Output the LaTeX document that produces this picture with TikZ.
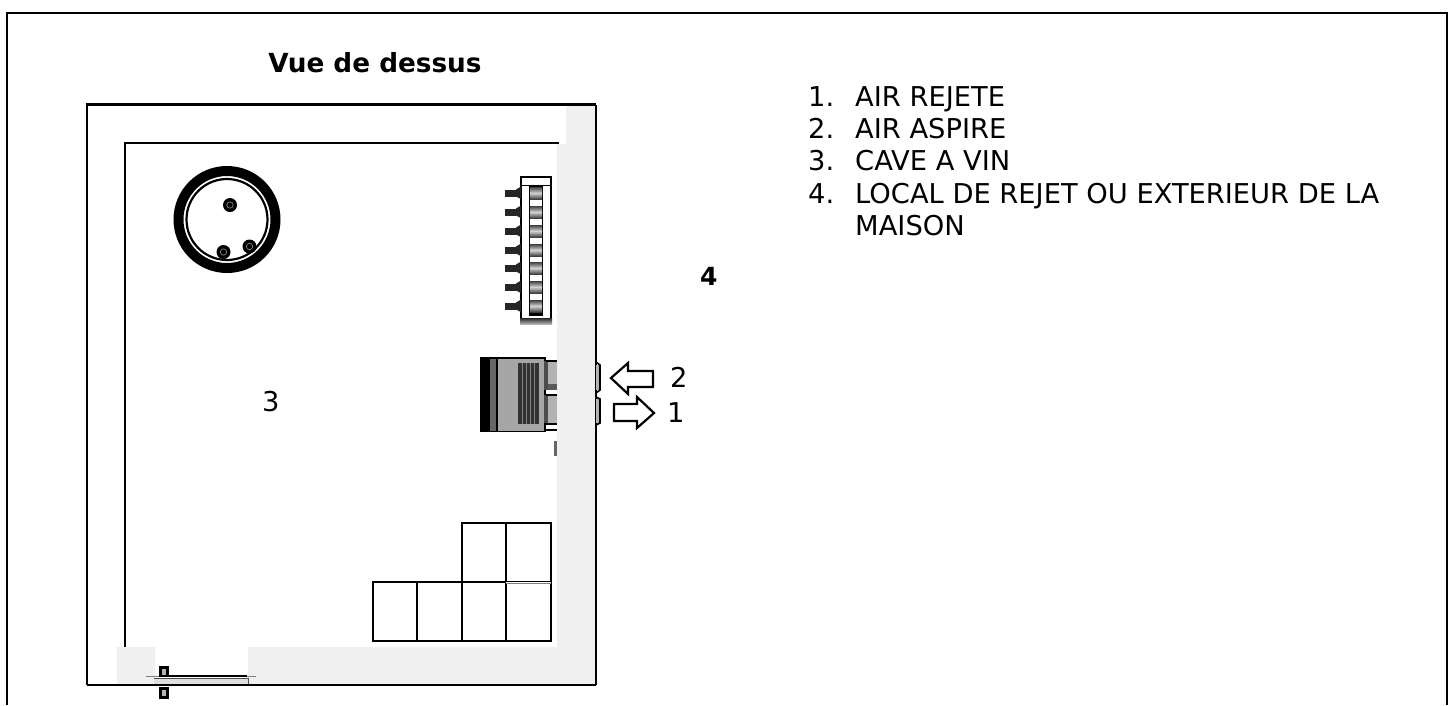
\documentclass[tikz,border=0pt]{standalone}
\usepackage{fontspec}
\setmainfont{DejaVu Sans}
\definecolor{wallgray}{gray}{0.94}
\tikzset{
 lbl/.style={inner sep=0pt,font=\fontsize{27.3}{31}\selectfont,anchor=base west},
 arrowshape/.style={draw=black,fill=white,line width=2.2pt},
 blk/.style={fill=black,draw=none},
 box/.style={draw=black,line width=2pt,fill=white,minimum width=44.5pt,minimum height=59pt,inner sep=0pt}
}
\begin{document}
\begin{tikzpicture}[x=1pt,y=-1pt]
\useasboundingbox (0,0) rectangle (1455,705);
% outer frame
\coordinate (fa) at (7,705); \coordinate (fb) at (7,13); \coordinate (fc) at (1447,13); \coordinate (fd) at (1447,705);
\draw[line width=2.4pt] (fa) -- (fb) -- (fc) -- (fd);
% walls
\fill[wallgray] (566,105) -- (595,105) -- (595,685) -- (117,685) -- (117,647) -- (155,647) -- (155,685) -- (248,685) -- (248,647) -- (557,647) -- (557,144) -- (566,144) -- cycle;
\fill[wallgray] (146,675) rectangle (155,685);
\draw[line width=2pt] (125,647) -- (125,143) -- (559,143);
\draw[line width=2.8pt] (87,685) -- (87,104.5) -- (596,104.5);
\draw[line width=1.8pt] (596,105) -- (596,685);
\draw[line width=2.8pt] (87,685) -- (596,685);
% title
\node[inner sep=0pt,anchor=base,font=\fontsize{26.3}{30}\selectfont\bfseries] (title) at (375,72) {Vue de dessus};
% tank
\node[circle,draw=black,line width=10pt,minimum size=97pt,inner sep=0pt] (ring) at (227,219.5) {};
\node[circle,draw=black,line width=2.2pt,minimum size=81pt,inner sep=0pt] (inner) at (227,219.5) {};
\node[circle,blk,minimum size=14pt,inner sep=0pt] (h1) at (230,205) {};
\node[circle,blk,minimum size=14pt,inner sep=0pt] (h2) at (223.5,252) {};
\node[circle,blk,minimum size=14pt,inner sep=0pt] (h3) at (249.5,246.5) {};
\foreach \n in {h1,h2,h3} \draw[gray,line width=.7pt] (\n) circle (3.2pt);
% shelf
\draw[line width=2pt,fill=white] (521,177) rectangle (551,323);
\shade[top color=black!85,bottom color=gray!60] (520,318) rectangle (552,324);
\draw[line width=1pt] (521,185.5) -- (551,185.5);
\fill[black] (529,186) rectangle (543,316);
\foreach \y in {203,222,241,260,278,297}{\fill[white] (530,\y-3) rectangle (542,\y+3);}
\foreach \y in {193,212,231,250,268,287,306}{
 \shade[top color=black!75,bottom color=black!75,middle color=gray!35] (530,\y-6) rectangle (542,\y+6);
 \fill[black!85] (505,\y-3.5) rectangle (516,\y+3.5);
 \fill[black!85] (516,\y-3.5) -- (521,\y-6.5) -- (521,\y+6) -- (516,\y+3.5) -- cycle;
}
% unit
\fill[black] (480,357) rectangle (546,432);
\fill[gray!70] (498,358.5) rectangle (544,430.5);
\fill[black!60] (490,358.5) rectangle (496,431);
\fill[black!80] (518,363) rectangle (539,424);
\foreach \x in {522,526,530,534}{\draw[gray,line width=.6pt] (\x,363) -- (\x,424);}
\fill[gray!60] (546,361) rectangle (557,390);
\fill[gray!60] (546,395) rectangle (557,423);
\fill[black!65] (546,384) rectangle (557,390);
\fill[black!70] (544,361) rectangle (548,390);
\fill[black!70] (544,395) rectangle (548,423);
\draw[line width=1.4pt] (546,361) -- (557,361);
\draw[line width=1.4pt] (546,395) -- (557,395);
\draw[line width=1.4pt] (546,424) -- (557,424);
\draw[line width=1.2pt] (546,430) -- (557,430);
\fill[black!60] (554,441) rectangle (556.5,456);
\fill[gray!60] (596,365) rectangle (600,390);
\fill[gray!60] (596,399) rectangle (600,423);
\draw[line width=1.6pt] (596,362) -- (600,365) -- (600,390) -- (596,393);
\draw[line width=1.6pt] (596,397) -- (600,399) -- (600,423) -- (596,425);
% arrows
\draw[arrowshape] (653,371) -- (653,387) -- (628,387) -- (628,394) -- (611,378) -- (628,363) -- (628,371) -- cycle;
\draw[arrowshape] (614,404) -- (637,404) -- (637,397) -- (654,413) -- (637,428) -- (637,421) -- (614,421) -- cycle;
\node[lbl] (n2) at (670,387) {2};
\node[lbl] (n1) at (667,422) {1};
\node[lbl] (n3) at (262,411) {3};
\node[lbl,font=\fontsize{25}{28}\selectfont\bfseries] (n4) at (700,285) {4};
% boxes
\node[box] (b1) at (484,552.5) {};
\node[box] (b2) at (528.5,552.5) {};
\node[box] (b3) at (395,611) {};
\node[box] (b4) at (439.5,611) {};
\node[box] (b5) at (484,611) {};
\node[box] (b6) at (528.5,611) {};
\draw[white,line width=2.4pt] ([xshift=1.2pt]b2.south west) -- ([xshift=-1.2pt]b2.south east);
\draw[gray,line width=1pt] ([xshift=1.2pt]b2.south west) -- ([xshift=-1.2pt]b2.south east);
% fan at bottom
\draw[line width=.5pt,gray] (146,676) -- (256,676);
\fill[gray!25] (154,678) rectangle (248,685);
\draw[line width=2pt] (160,676) -- (247,676);
\draw[line width=.6pt,gray!60!black] (154,678) -- (248,678) -- (248,685);
\draw[line width=2.8pt] (87,685) -- (596,685);
\fill[black] (159,666) rectangle (169,677);
\fill[black] (159,686.5) rectangle (169,699);
\fill[gray!60] (162,669) rectangle (166,675);
\fill[gray!60] (162,690) rectangle (166,696);
% legend
\node[lbl] (l1) at (808,106) {1.};
\node[lbl] (l2) at (808,138) {2.};
\node[lbl] (l3) at (808,170) {3.};
\node[lbl] (l4) at (808,203) {4.};
\node[lbl] (t1a) at (855,106) {AIR REJETE};
\node[lbl] (t2a) at (855,138) {AIR ASPIRE};
\node[lbl] (t3a) at (855,170) {CAVE A VIN};
\node[lbl] (t4a) at (855,203) {LOCAL DE REJET OU EXTERIEUR DE LA};
\node[lbl] (t5a) at (855,235) {MAISON};
\end{tikzpicture}
\end{document}
